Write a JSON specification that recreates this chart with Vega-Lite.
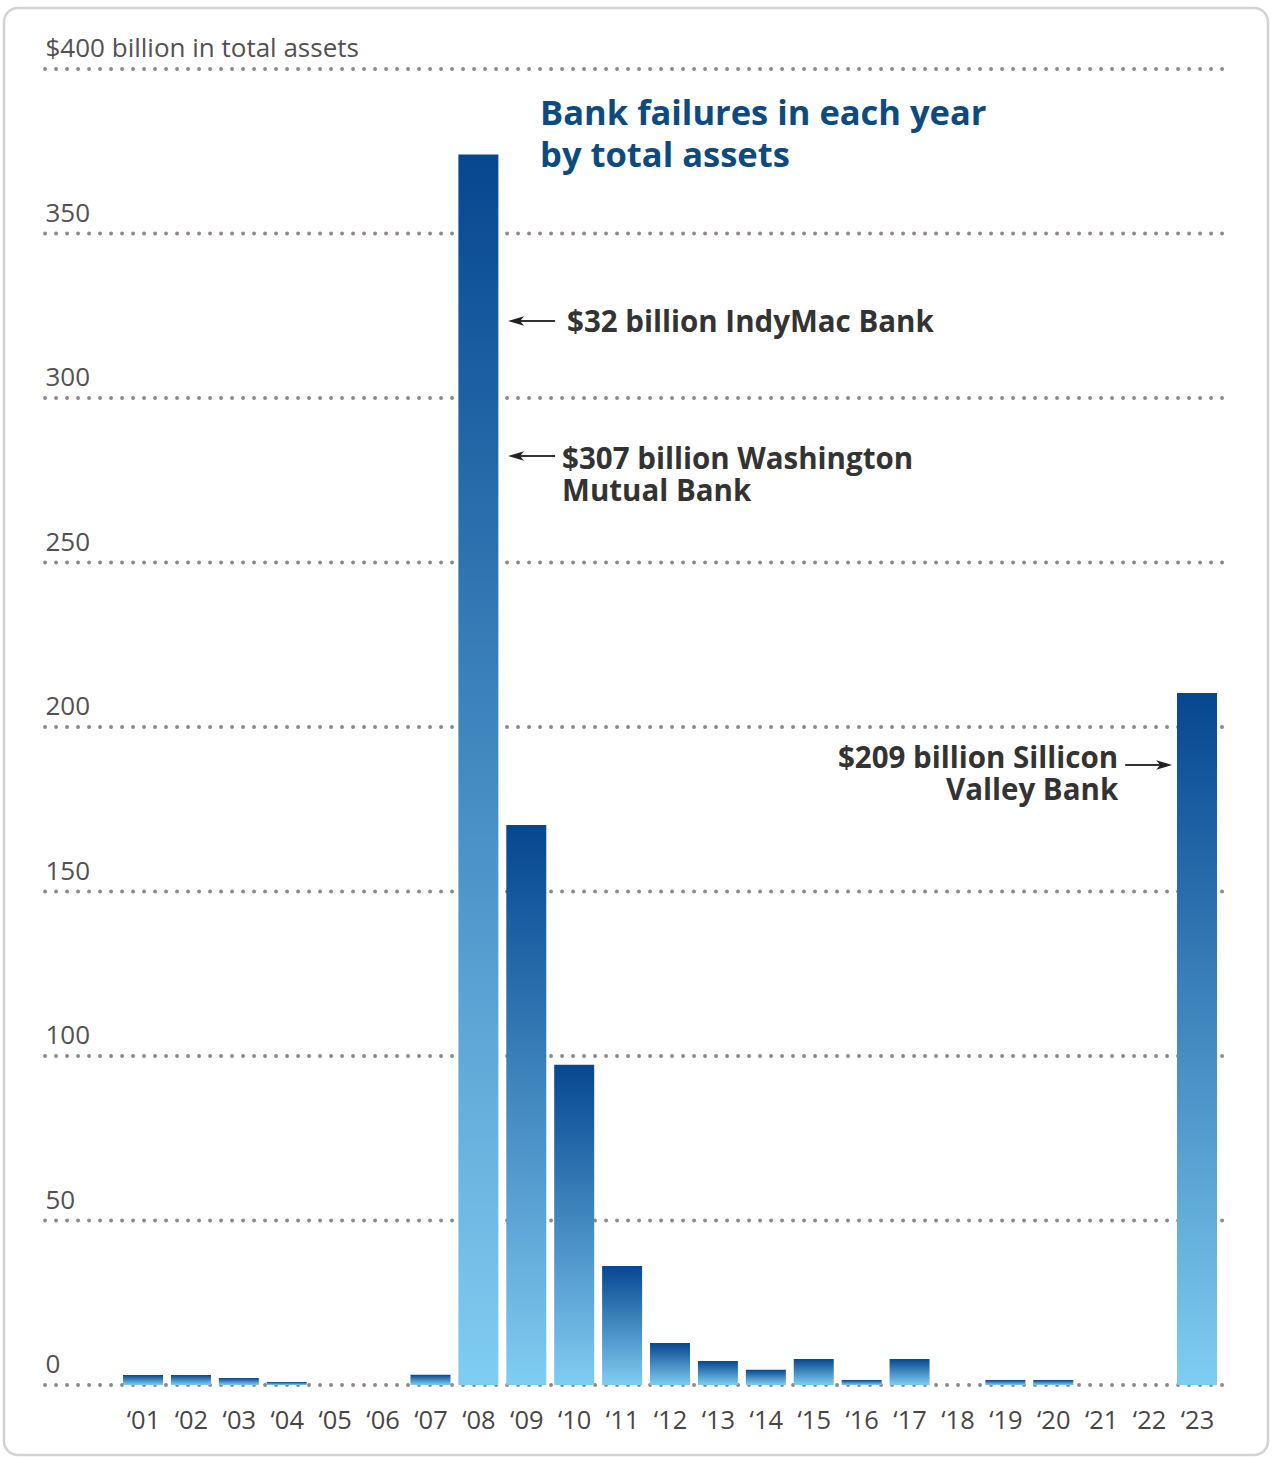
{
  "$schema": "https://vega.github.io/schema/vega-lite/v6.json",
  "width": 1264,
  "height": 1447,
  "autosize": {"type": "none"},
  "padding": {"left": 4, "top": 8, "right": 6, "bottom": 2},
  "background": "#ffffff",
  "config": {
    "view": {"stroke": "#d2d2d2", "strokeWidth": 2.5, "cornerRadius": 14},
    "font": "Open Sans",
    "text": {"font": "Open Sans"}
  },
  "datasets": {
    "bars": [
      {"year": 2001, "value": 3.0},
      {"year": 2002, "value": 3.0},
      {"year": 2003, "value": 2.1},
      {"year": 2004, "value": 0.9},
      {"year": 2007, "value": 3.1},
      {"year": 2008, "value": 374.0},
      {"year": 2009, "value": 170.2},
      {"year": 2010, "value": 97.3},
      {"year": 2011, "value": 36.2},
      {"year": 2012, "value": 12.8},
      {"year": 2013, "value": 7.3},
      {"year": 2014, "value": 4.6},
      {"year": 2015, "value": 7.9},
      {"year": 2016, "value": 1.5},
      {"year": 2017, "value": 7.9},
      {"year": 2019, "value": 1.5},
      {"year": 2020, "value": 1.5},
      {"year": 2023, "value": 210.3}
    ],
    "grid": [
      {"value": 0}, {"value": 50}, {"value": 100}, {"value": 150}, {"value": 200},
      {"value": 250}, {"value": 300}, {"value": 350}, {"value": 400}
    ],
    "notes": [
      {"year": 2009.288, "value": 382.98, "label": "Bank failures in each year\nby total assets", "kind": "title"},
      {"year": 2009.852, "value": 320.06, "label": "$32 billion IndyMac Bank", "kind": "left"},
      {"year": 2009.747, "value": 278.42, "label": "$307 billion Washington\nMutual Bank", "kind": "left"},
      {"year": 2021.355, "value": 187.54, "label": "$209 billion Sillicon\nValley Bank", "kind": "right"}
    ],
    "arrows": [
      {"tail": 2009.601, "tip": 2008.8, "value": 323.4, "dir": "left"},
      {"tail": 2009.601, "tip": 2008.8, "value": 282.37, "dir": "left"},
      {"tail": 2021.501, "tip": 2022.3, "value": 188.45, "dir": "right"}
    ],
    "heads": [
      {"tip": 2008.62, "value": 323.4, "dir": "left"},
      {"tip": 2008.62, "value": 282.37, "dir": "left"},
      {"tip": 2022.482, "value": 188.45, "dir": "right"}
    ]
  },
  "layer": [
    {
      "data": {"name": "grid"},
      "mark": {"type": "rule", "strokeDash": [0.1, 10.9], "strokeCap": "round", "strokeWidth": 3.8, "color": "#8f8888"},
      "encoding": {
        "y": {
          "field": "value", "type": "quantitative", "title": null,
          "scale": {"domain": [-21.28, 418.54], "nice": false, "zero": false, "padding": 0},
          "axis": {
            "orient": "left", "values": [0, 50, 100, 150, 200, 250, 300, 350, 400],
            "domain": false, "ticks": false, "tickSize": 0, "grid": false, "title": null,
            "labelAlign": "left", "labelPadding": -41, "labelBaseline": "alphabetic", "labelOffset": -12,
            "labelFontSize": 26, "labelColor": "#555050", "labelFont": "Open Sans", "labelLimit": 0,
            "labelExpr": "datum.value == 400 ? '$400 billion in total assets' : datum.label",
            "labelOverlap": false, "labelBound": false, "labelFlush": false
          }
        },
        "x": {
          "datum": 1998.954, "type": "quantitative", "title": null,
          "scale": {"domain": [1998.098, 2024.482], "nice": false, "zero": false, "padding": 0},
          "axis": {
            "orient": "bottom", "values": [2001,2002,2003,2004,2005,2006,2007,2008,2009,2010,2011,2012,2013,2014,2015,2016,2017,2018,2019,2020,2021,2022,2023],
            "domain": false, "ticks": false, "tickSize": 0, "grid": false, "title": null,
            "labelPadding": -27, "labelBaseline": "alphabetic", "labelAlign": "center",
            "labelFontSize": 25.5, "labelColor": "#4a4545", "labelFont": "Open Sans",
            "labelExpr": "'\u2018' + substring(toString(datum.value), 2)",
            "labelOverlap": false, "labelBound": false, "labelFlush": false
          }
        },
        "x2": {"datum": 2023.59}
      }
    },
    {
      "data": {"name": "bars"},
      "mark": {
        "type": "bar", "width": 40,
        "color": {
          "gradient": "linear", "x1": 0, "y1": 1, "x2": 0, "y2": 0,
          "stops": [{"offset": 0, "color": "#80cdf2"}, {"offset": 1, "color": "#064790"}]
        }
      },
      "encoding": {
        "x": {"field": "year", "type": "quantitative", "title": null},
        "y": {"field": "value", "type": "quantitative", "title": null},
        "y2": {"datum": 0}
      }
    },
    {
      "data": {"name": "notes"},
      "transform": [{"filter": "datum.kind == 'title'"}],
      "mark": {"type": "text", "align": "left", "baseline": "alphabetic", "lineBreak": "\n", "lineHeight": 42, "fontSize": 34.5, "fontWeight": "bold", "color": "#0c4a80"},
      "encoding": {
        "x": {"field": "year", "type": "quantitative", "title": null},
        "y": {"field": "value", "type": "quantitative", "title": null},
        "text": {"field": "label"}
      }
    },
    {
      "data": {"name": "notes"},
      "transform": [{"filter": "datum.kind == 'left'"}],
      "mark": {"type": "text", "align": "left", "baseline": "alphabetic", "lineBreak": "\n", "lineHeight": 32, "fontSize": 29.5, "fontWeight": "bold", "color": "#333333"},
      "encoding": {
        "x": {"field": "year", "type": "quantitative", "title": null},
        "y": {"field": "value", "type": "quantitative", "title": null},
        "text": {"field": "label"}
      }
    },
    {
      "data": {"name": "notes"},
      "transform": [{"filter": "datum.kind == 'right'"}],
      "mark": {"type": "text", "align": "right", "baseline": "alphabetic", "lineBreak": "\n", "lineHeight": 32, "fontSize": 29.5, "fontWeight": "bold", "color": "#333333"},
      "encoding": {
        "x": {"field": "year", "type": "quantitative", "title": null},
        "y": {"field": "value", "type": "quantitative", "title": null},
        "text": {"field": "label"}
      }
    },
    {
      "data": {"name": "arrows"},
      "mark": {"type": "rule", "strokeWidth": 2, "color": "#333333"},
      "encoding": {
        "x": {"field": "tail", "type": "quantitative", "title": null},
        "x2": {"field": "tip"},
        "y": {"field": "value", "type": "quantitative", "title": null}
      }
    },
    {
      "data": {"name": "heads"},
      "transform": [{"filter": "datum.dir == 'left'"}],
      "mark": {"type": "point", "shape": "M0,0 L2,-0.6 L1.5,0 L2,0.6 Z", "filled": true, "size": 256, "color": "#222222", "opacity": 1},
      "encoding": {
        "x": {"field": "tip", "type": "quantitative", "title": null},
        "y": {"field": "value", "type": "quantitative", "title": null}
      }
    },
    {
      "data": {"name": "heads"},
      "transform": [{"filter": "datum.dir == 'right'"}],
      "mark": {"type": "point", "shape": "M0,0 L-2,-0.6 L-1.5,0 L-2,0.6 Z", "filled": true, "size": 256, "color": "#222222", "opacity": 1},
      "encoding": {
        "x": {"field": "tip", "type": "quantitative", "title": null},
        "y": {"field": "value", "type": "quantitative", "title": null}
      }
    }
  ]
}
